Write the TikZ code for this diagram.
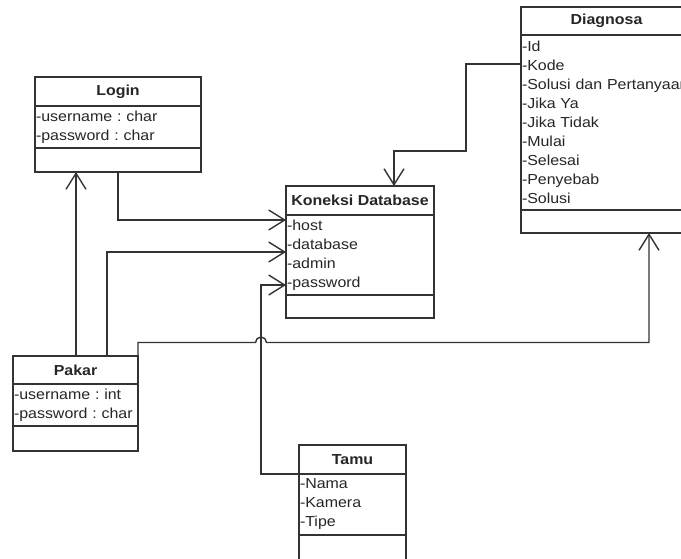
\documentclass[tikz,border=0pt]{standalone}
\usepackage{fontspec}
\setmainfont{Liberation Sans}[FakeStretch=1.1]
\frenchspacing
\usetikzlibrary{arrows.meta,positioning}
\tikzstyle{classT}=[draw=black!80, line width=1.4pt, fill=white, font=\fontsize{14.5}{19}\selectfont\bfseries, text=black!85, inner sep=0pt, outer sep=0pt]
\tikzstyle{classA}=[draw=black!80, line width=1.4pt, fill=white, font=\fontsize{14.5}{19}\selectfont, text=black!85, align=left, inner xsep=1pt, inner ysep=0pt, outer sep=0pt]
\tikzstyle{classM}=[draw=black!80, line width=1.4pt, fill=white, inner sep=0pt, outer sep=0pt]
\tikzstyle{assoc}=[draw=black!80, line width=1.4pt, -{Straight Barb[length=16pt,width=20pt,line width=1.4pt]}]

\begin{document}
\begin{tikzpicture}[x=1pt, y=-1pt]
      \useasboundingbox (0,0) rectangle (681,558);
      \clip (0,0) rectangle (681,558);
      \node(loginT) [classT, minimum width=166pt, minimum height=29pt, anchor=north west] at (35,77) {Login};
      \node(loginA) [classA, text width=164pt, minimum height=42pt, below=0pt of loginT] {-username : char\\-password : char};
      \node(loginM) [classM, minimum width=166pt, minimum height=24pt, below=0pt of loginA] {};
      \node(konT) [classT, minimum width=148pt, minimum height=29pt, anchor=north west] at (286,186) {Koneksi Database};
      \node(konA) [classA, text width=146pt, minimum height=80pt, below=0pt of konT] {-host\\-database\\-admin\\-password};
      \node(konM) [classM, minimum width=148pt, minimum height=23pt, below=0pt of konA] {};
      \node(diagT) [classT, minimum width=171pt, minimum height=28pt, anchor=north west] at (521,7) {Diagnosa};
      \node(diagA) [classA, text width=169pt, minimum height=175pt, below=0pt of diagT] {-Id\\-Kode\\-Solusi dan Pertanyaan\\-Jika Ya\\-Jika Tidak\\-Mulai\\-Selesai\\-Penyebab\\-Solusi};
      \node(diagM) [classM, minimum width=171pt, minimum height=23pt, below=0pt of diagA] {};
      \node(pakarT) [classT, minimum width=125pt, minimum height=28pt, anchor=north west] at (13,356) {Pakar};
      \node(pakarA) [classA, text width=123pt, minimum height=42pt, below=0pt of pakarT] {-username : int\\-password : char};
      \node(pakarM) [classM, minimum width=125pt, minimum height=25pt, below=0pt of pakarA] {};
      \node(tamuT) [classT, minimum width=107pt, minimum height=29pt, anchor=north west] at (299,445) {Tamu};
      \node(tamuA) [classA, text width=105pt, minimum height=61pt, below=0pt of tamuT] {-Nama\\-Kamera\\-Tipe};
      \node(tamuM) [classM, minimum width=107pt, minimum height=30pt, below=0pt of tamuA] {};
      \coordinate (kd) at ([xshift=34pt]konT.north);
      \coordinate (tk) at ([xshift=-38pt]tamuT.south west);
      \coordinate (pk) at ([yshift=13.5pt]pakarT.north east);
      \coordinate (hp) at (tk |- pk);
      \coordinate (pd) at ([xshift=42.5pt]diagM.south);
      \draw[assoc] (loginM.south) |- ([yshift=-5pt]konA.north west);
      \draw[assoc] ([xshift=0.5pt]pakarT.north) -- ([xshift=0.5pt]pakarT.north |- loginM.south);
      \draw[assoc] ([xshift=31.5pt]pakarT.north) |- ([yshift=-37pt]konA.north west);
      \draw[assoc] (tamuT.south west) -- (tk) |- ([yshift=-70pt]konA.north west);
      \draw[assoc] ([yshift=-29pt]diagA.north west) -- ++(-55,0) |- ([yshift=35pt]kd) -- (kd);
      \draw[assoc] (pakarT.north east) -- (pk) -- ([xshift=-5.5pt]hp) arc (180:360:5.5) -- (pd |- pk) -- (pd);
    \end{tikzpicture}
\end{document}
